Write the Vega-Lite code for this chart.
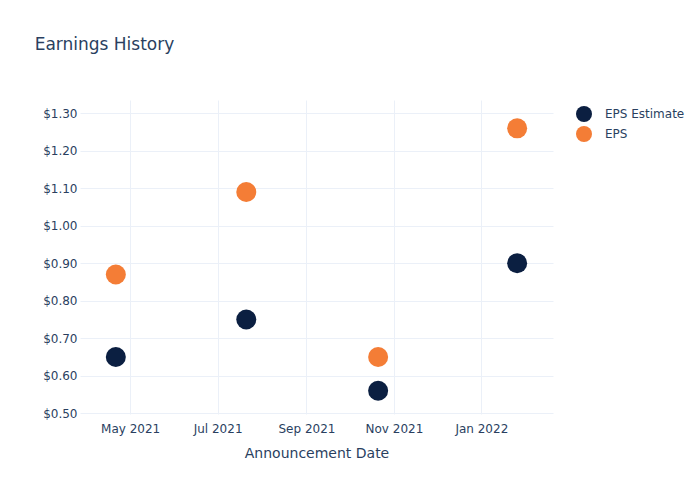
{
  "$schema": "https://vega.github.io/schema/vega-lite/v6.json",
  "width": 473,
  "height": 314,
  "autosize": {"type": "none"},
  "padding": {"left": 80, "top": 100, "right": 147, "bottom": 86},
  "background": "white",
  "title": {
    "text": "Earnings History",
    "anchor": "start",
    "dx": -8,
    "offset": 46,
    "font": "DejaVu Sans",
    "fontSize": 17,
    "fontWeight": "normal",
    "color": "#2a3f5f"
  },
  "data": {
    "values": [
      {"date": "2021-04-21", "series": "EPS Estimate", "value": 0.65},
      {"date": "2021-07-21", "series": "EPS Estimate", "value": 0.75},
      {"date": "2021-10-21", "series": "EPS Estimate", "value": 0.56},
      {"date": "2022-01-26", "series": "EPS Estimate", "value": 0.90},
      {"date": "2021-04-21", "series": "EPS", "value": 0.87},
      {"date": "2021-07-21", "series": "EPS", "value": 1.09},
      {"date": "2021-10-21", "series": "EPS", "value": 0.65},
      {"date": "2022-01-26", "series": "EPS", "value": 1.26}
    ]
  },
  "mark": {"type": "circle", "size": 400, "opacity": 1},
  "encoding": {
    "x": {
      "field": "date",
      "type": "temporal",
      "title": "Announcement Date",
      "scale": {
        "type": "utc",
        "domain": [
          {"year": 2021, "month": 3, "date": 27, "utc": true},
          {"year": 2022, "month": 2, "date": 20, "utc": true}
        ]
      },
      "axis": {
        "values": [
          {"year": 2021, "month": 5, "date": 1, "utc": true},
          {"year": 2021, "month": 7, "date": 1, "utc": true},
          {"year": 2021, "month": 9, "date": 1, "utc": true},
          {"year": 2021, "month": 11, "date": 1, "utc": true},
          {"year": 2022, "month": 1, "date": 1, "utc": true}
        ],
        "format": "%b %Y",
        "labelPadding": 9,
        "titlePadding": 12
      }
    },
    "y": {
      "field": "value",
      "type": "quantitative",
      "title": null,
      "scale": {"domain": [0.498, 1.3355], "nice": false, "zero": false},
      "axis": {
        "values": [0.5, 0.6, 0.7, 0.8, 0.9, 1.0, 1.1, 1.2, 1.3],
        "format": "$.2f",
        "labelPadding": 3
      }
    },
    "color": {
      "field": "series",
      "type": "nominal",
      "sort": ["EPS Estimate", "EPS"],
      "scale": {"domain": ["EPS Estimate", "EPS"], "range": ["#0b1f41", "#f47d36"]},
      "legend": {
        "title": null,
        "orient": "none",
        "legendX": 495,
        "legendY": 5,
        "symbolType": "circle",
        "symbolSize": 256,
        "symbolOpacity": 1,
        "labelOffset": 12,
        "rowPadding": 3,
        "padding": 0
      }
    }
  },
  "config": {
    "view": {"stroke": null},
    "font": "DejaVu Sans",
    "axis": {
      "domain": false,
      "ticks": false,
      "grid": true,
      "gridColor": "#ebf0f8",
      "gridWidth": 1,
      "labelFont": "DejaVu Sans",
      "labelFontSize": 12,
      "labelColor": "#2a3f5f",
      "titleFont": "DejaVu Sans",
      "titleFontSize": 14,
      "titleFontWeight": "normal",
      "titleColor": "#2a3f5f"
    },
    "legend": {
      "labelFont": "DejaVu Sans",
      "labelFontSize": 12,
      "labelColor": "#2a3f5f"
    }
  }
}
